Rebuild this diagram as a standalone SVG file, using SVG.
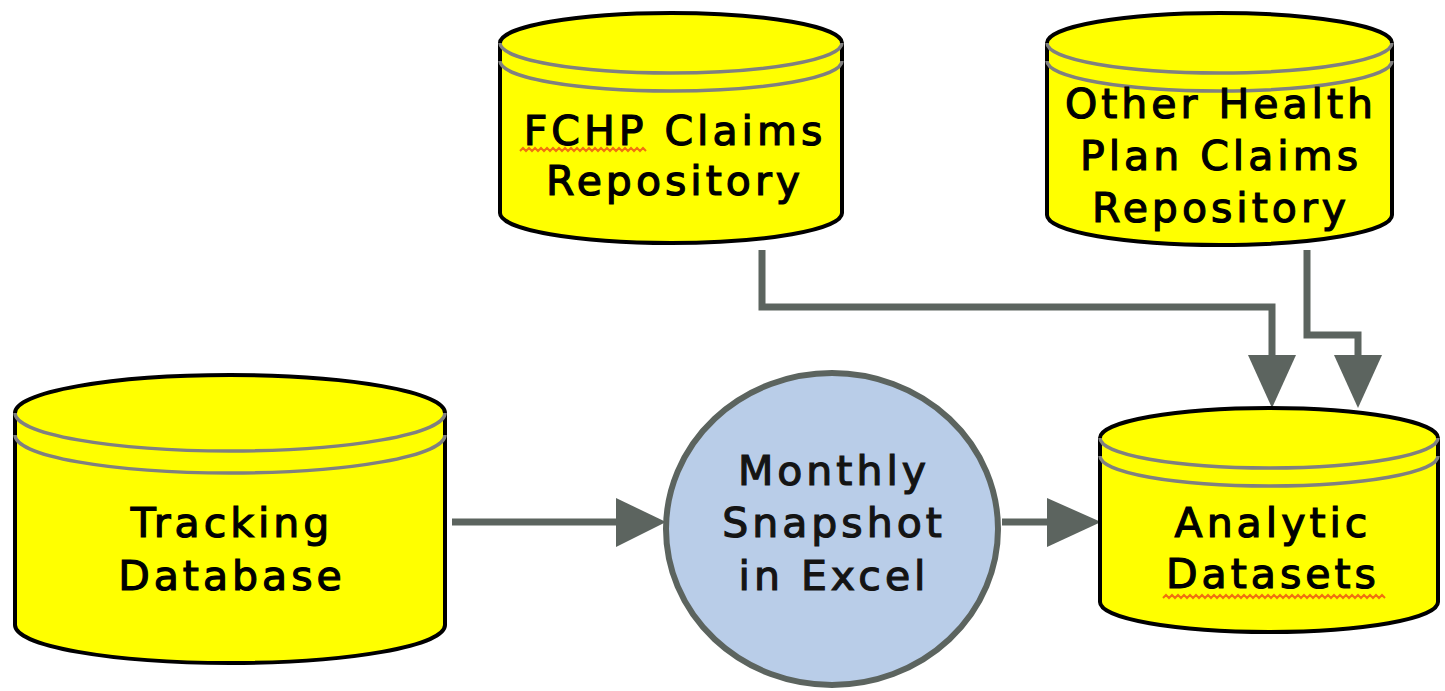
<svg xmlns="http://www.w3.org/2000/svg" width="1445" height="691" viewBox="0 0 1445 691">
  <defs>
    <style>
      .body { fill: #ffff00; stroke: #000; stroke-width: 4; }
      .ring { fill: none; stroke: #808080; stroke-width: 3.5; }
      .label { font-family: "DejaVu Sans", Verdana, sans-serif; font-size: 41px; letter-spacing: 4px; fill: #000; stroke: #000; stroke-width: 1.2; text-anchor: middle; }
      .dark { fill: #141414; stroke: #141414; }
      .wire { fill: none; stroke: #5c645f; stroke-width: 7; }
      .head { fill: #5c645f; }
      .squiggle { fill: none; stroke: #f07010; stroke-width: 2; }
    </style>
  </defs>

  <rect width="1445" height="691" fill="#fff"/>

  <!-- connectors -->
  <g id="connectors">
    <!-- FCHP repository to analytic datasets -->
    <polyline class="wire" points="762,250 762,307 1272,307 1272,360"/>
    <polygon class="head" points="1248,355 1296,355 1272,408"/>
    <!-- other health plan repository to analytic datasets -->
    <polyline class="wire" points="1307,250 1307,335 1358,335 1358,360"/>
    <polygon class="head" points="1334,355 1382,355 1358,408"/>
    <!-- tracking database to monthly snapshot -->
    <line class="wire" x1="452" y1="522" x2="620" y2="522"/>
    <polygon class="head" points="616,498 616,547 666,522"/>
    <!-- monthly snapshot to analytic datasets -->
    <line class="wire" x1="1002" y1="522" x2="1050" y2="522"/>
    <polygon class="head" points="1047,498 1047,547 1101,522"/>
  </g>

  <!-- FCHP Claims Repository -->
  <g id="fchp-claims">
    <path class="body" d="M500,43 A171,30 0 0 1 842,43 L842,213 A171,30 0 0 1 500,213 Z"/>
    <path class="ring" d="M500,43 A171,30 0 0 0 842,43"/>
    <path class="ring" d="M500,61 A171,30 0 0 0 842,61"/>
    <text class="label" x="675" y="145">FCHP Claims</text>
    <text class="label" x="675" y="195">Repository</text>
    <path class="squiggle" d="M520,151 l3,-3 l3,3 l3,-3 l3,3 l3,-3 l3,3 l3,-3 l3,3 l3,-3 l3,3 l3,-3 l3,3 l3,-3 l3,3 l3,-3 l3,3 l3,-3 l3,3 l3,-3 l3,3 l3,-3 l3,3 l3,-3 l3,3 l3,-3 l3,3 l3,-3 l3,3 l3,-3 l3,3 l3,-3 l3,3 l3,-3 l3,3 l3,-3 l3,3 l3,-3 l3,3 l3,-3 l3,3 l3,-3 l3,3"/>
  </g>

  <!-- Other Health Plan Claims Repository -->
  <g id="other-claims">
    <path class="body" d="M1047,43 A172.5,30 0 0 1 1392,43 L1392,215 A172.5,30 0 0 1 1047,215 Z"/>
    <path class="ring" d="M1047,43 A172.5,30 0 0 0 1392,43"/>
    <path class="ring" d="M1047,61 A172.5,30 0 0 0 1392,61"/>
    <text class="label" x="1221" y="118">Other Health</text>
    <text class="label" x="1221" y="170">Plan Claims</text>
    <text class="label" x="1221" y="222">Repository</text>
  </g>

  <!-- Tracking Database -->
  <g id="tracking-db">
    <path class="body" d="M15,413 A215,38 0 0 1 445,413 L445,625 A215,38 0 0 1 15,625 Z"/>
    <path class="ring" d="M15,413 A215,38 0 0 0 445,413"/>
    <path class="ring" d="M15,435 A215,38 0 0 0 445,435"/>
    <text class="label" x="232" y="537">Tracking</text>
    <text class="label" x="232" y="590">Database</text>
  </g>

  <!-- Monthly Snapshot in Excel -->
  <g id="monthly-snapshot">
    <ellipse cx="832" cy="529" rx="166" ry="156" fill="#b9cde8" stroke="#5c645f" stroke-width="6"/>
    <text class="label dark" x="834" y="485">Monthly</text>
    <text class="label dark" x="834" y="537">Snapshot</text>
    <text class="label dark" x="834" y="590">in Excel</text>
  </g>

  <!-- Analytic Datasets -->
  <g id="analytic-datasets">
    <path class="body" d="M1100,438 A169,30 0 0 1 1438,438 L1438,602 A169,30 0 0 1 1100,602 Z"/>
    <path class="ring" d="M1100,438 A169,30 0 0 0 1438,438"/>
    <path class="ring" d="M1100,456 A169,30 0 0 0 1438,456"/>
    <text class="label" x="1273" y="537">Analytic</text>
    <text class="label" x="1273" y="588">Datasets</text>
    <path class="squiggle" d="M1163,598 l3,-3 l3,3 l3,-3 l3,3 l3,-3 l3,3 l3,-3 l3,3 l3,-3 l3,3 l3,-3 l3,3 l3,-3 l3,3 l3,-3 l3,3 l3,-3 l3,3 l3,-3 l3,3 l3,-3 l3,3 l3,-3 l3,3 l3,-3 l3,3 l3,-3 l3,3 l3,-3 l3,3 l3,-3 l3,3 l3,-3 l3,3 l3,-3 l3,3 l3,-3 l3,3 l3,-3 l3,3 l3,-3 l3,3 l3,-3 l3,3 l3,-3 l3,3 l3,-3 l3,3 l3,-3 l3,3 l3,-3 l3,3 l3,-3 l3,3 l3,-3 l3,3 l3,-3 l3,3 l3,-3 l3,3 l3,-3 l3,3 l3,-3 l3,3 l3,-3 l3,3 l3,-3 l3,3 l3,-3 l3,3 l3,-3 l3,3 l3,-3 l3,3"/>
  </g>
</svg>
